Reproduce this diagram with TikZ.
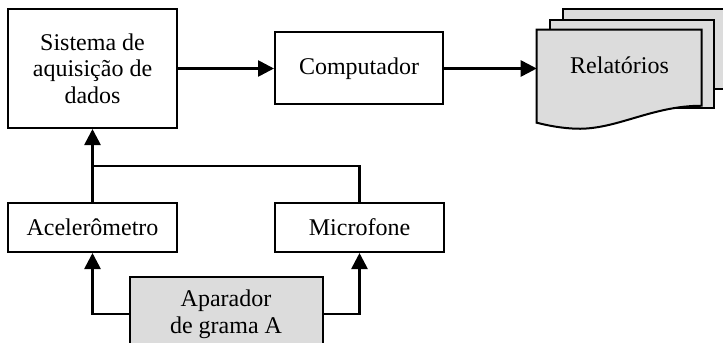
\documentclass[tikz,border=0pt]{standalone}
\usepackage{fontspec}
\setmainfont{Liberation Serif}
\usetikzlibrary{arrows.meta,positioning,calc,backgrounds}
\definecolor{docgrey}{HTML}{DCDCDC}

\begin{document}
\begin{tikzpicture}[
  x=0.75pt, y=-0.75pt,
  node distance=54.75pt and 72pt,
  box/.style={draw, line width=1.5pt, align=center, inner sep=2pt, minimum width=126.75pt, font=\fontsize{18}{20}\selectfont},
  greybox/.style={box, fill=docgrey},
  page/.style={draw, fill=docgrey, line width=1.5pt},
  conn/.style={line width=2pt},
  >={Triangle[length=12pt,width=12pt]}
]
\useasboundingbox (0,0) rectangle (723,342);
\node[box, minimum height=89.25pt] (sist) at (92.5,68.5) {Sistema de\\aquisição de\\dados};
\node[box, minimum width=126pt, minimum height=54pt, right=of sist] (comp) {Computador};
\node[box, minimum height=36.75pt, below=of sist] (acel) {Acelerômetro};
\node[box, minimum height=36.75pt, right=of acel] (micro) {Microfone};
\coordinate (mid) at ($(acel.south)!0.5!(micro.south)$);
\node[greybox, minimum width=144.75pt, minimum height=55.5pt, below=17.25pt of mid] (apar) {Aparador\\de grama A};
\node[minimum width=123.75pt, minimum height=52.5pt, inner sep=0pt, font=\fontsize{18}{20}\selectfont] (rel) at (619.5,65) {Relatórios};
% pilha de folhas atras do texto
\begin{scope}[on background layer, shift={(rel.north west)}]
  \draw[page] (26,-21) rectangle (200,59);
  \draw[page] (13,-10) rectangle (177,78);
  \draw[page] (0,0) -- (165,0) -- (165,76) .. controls (115,76) and (80,100) .. (40,99)
    .. controls (25,98.5) and (12,96) .. (0,93) -- cycle;
\end{scope}
\draw[conn,->] (sist) -- (comp);
\draw[conn,->] (comp) -- (comp -| rel.west);
\draw[conn,->] (acel) -- (sist);
\coordinate (jn) at ($(acel.north)+(0,27pt)$);
\draw[conn] (micro.north) |- (jn);
\draw[conn,->] (apar.west) -| (acel.south);
\draw[conn,->] (apar.east) -| (micro.south);
\end{tikzpicture}
\end{document}
